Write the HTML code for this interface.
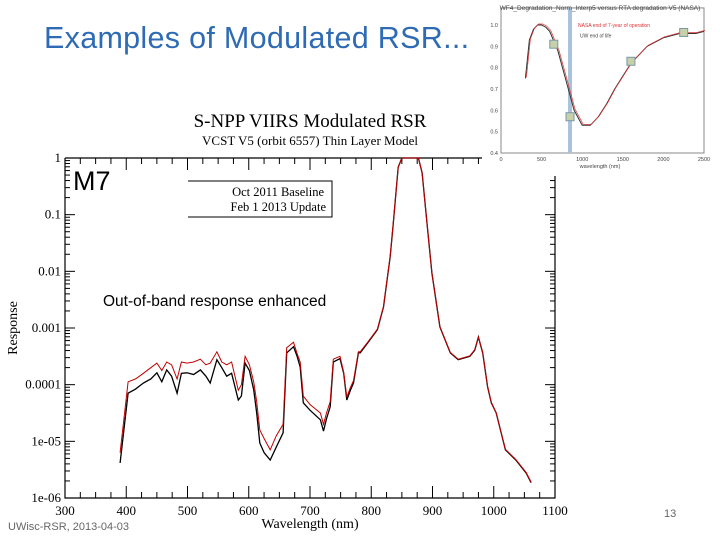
<!DOCTYPE html>
<html><head><meta charset="utf-8"><style>
body{margin:0;background:#fff;}
#slide{position:relative;width:720px;height:540px;overflow:hidden;background:#fff;font-family:"Liberation Sans",sans-serif;}
.t{position:absolute;white-space:nowrap;}
</style></head><body>
<div id="slide">
<div class="t" style="left:44px;top:21px;font-size:30.5px;letter-spacing:0.3px;color:#2e6bb4;">Examples of Modulated RSR...</div>
<svg id="chart" width="720" height="540" style="position:absolute;left:0;top:0"></svg>
<div class="t" style="left:73px;top:166px;font-size:27px;color:#000;">M7</div>
<div class="t" style="left:103px;top:293px;font-size:15.5px;color:#000;">Out-of-band response enhanced</div>
<div class="t" style="left:8px;top:521px;font-size:11px;color:#666;">UWisc-RSR, 2013-04-03</div>
<div class="t" style="left:664px;top:508px;font-size:11px;color:#666;">13</div>
</div>
<script>
const blackWl=[390,403,415,428,440,450,458,466,474,483,490,499,510,521,530,537,548,556,564,572,583,588,594,601,608,613,618,625,635,645,656,662,673,679,684,689,700,717,722,727,733,738,749,755,760,766,771,779,782,795,810,820,831,836,844,850,877,883,891,899,912,929,942,961,969,975,982,990,996,1004,1019,1036,1053,1061];
const blackLog=[-5.38,-4.15,-4.08,-3.97,-3.9,-3.79,-3.95,-3.74,-3.85,-4.15,-3.8,-3.79,-3.82,-3.74,-3.85,-3.97,-3.56,-3.7,-3.85,-3.8,-4.27,-4.2,-3.62,-3.75,-4.09,-4.5,-5.03,-5.2,-5.33,-5.1,-4.85,-3.44,-3.33,-3.5,-3.69,-4.32,-4.45,-4.62,-4.82,-4.6,-4.39,-3.6,-3.54,-3.8,-4.27,-4.1,-3.97,-3.44,-3.44,-3.25,-3.03,-2.63,-1.74,-1.15,-0.16,0,0,-0.26,-1.15,-2.03,-2.98,-3.44,-3.56,-3.5,-3.39,-3.16,-3.44,-4.04,-4.32,-4.5,-5.15,-5.33,-5.56,-5.73];
const redWl=[390,403,415,428,440,450,458,466,474,483,490,499,510,521,530,537,548,556,564,572,583,588,594,601,608,613,618,625,635,645,656,662,673,679,684,689,700,717,722,727,733,738,749,755,760,766,771,779,782,795,810,820,831,836,844,850,877,883,891,899,912,929,942,961,969,975,982,990,996,1004,1019,1036,1053,1061];
const redLog=[-5.2,-3.95,-3.9,-3.8,-3.7,-3.62,-3.75,-3.6,-3.65,-3.9,-3.6,-3.62,-3.6,-3.55,-3.65,-3.62,-3.42,-3.6,-3.65,-3.6,-4.1,-4.0,-3.5,-3.65,-3.95,-4.3,-4.8,-4.95,-5.15,-4.9,-4.7,-3.35,-3.25,-3.45,-3.6,-4.2,-4.35,-4.5,-4.7,-4.5,-4.3,-3.55,-3.5,-3.78,-4.22,-4.05,-3.93,-3.42,-3.42,-3.24,-3.02,-2.62,-1.73,-1.14,-0.16,0,0,-0.26,-1.15,-2.03,-2.98,-3.43,-3.55,-3.49,-3.38,-3.16,-3.43,-4.03,-4.31,-4.5,-5.14,-5.32,-5.55,-5.72];
const xTicks=[300,400,500,600,700,800,900,1000,1100];
const yTickLabels=["1","0.1","0.01","0.001","0.0001","1e-05","1e-06"];
const yTickLogs=[0,-1,-2,-3,-4,-5,-6];
const insetWl=[300,350,400,450,500,550,600,700,800,900,1000,1100,1200,1300,1400,1500,1600,1800,2000,2200,2400,2500];
const insetRef=[0.75,0.93,0.98,1.0,1.0,0.99,0.97,0.88,0.74,0.6,0.53,0.53,0.57,0.63,0.7,0.76,0.82,0.9,0.94,0.96,0.96,0.97];

const NS="http://www.w3.org/2000/svg";
const svg=document.getElementById('chart');
const X0=65,X1=555,Y0=158,Y1=498;
const sx=w=>X0+(w-300)/800*(X1-X0);
const sy=l=>Y0+(0-l)/6*(Y1-Y0);
function mk(tag,attrs,parent){const e=document.createElementNS(NS,tag);for(const k in attrs)e.setAttribute(k,attrs[k]);(parent||svg).appendChild(e);return e;}
let e=mk('text',{x:310,y:127,'text-anchor':'middle','font-family':'Liberation Serif','font-size':19});e.textContent='S-NPP VIIRS Modulated RSR';


e=mk('text',{x:310,y:145,'text-anchor':'middle','font-family':'Liberation Serif','font-size':13});e.textContent='VCST V5 (orbit 6557) Thin Layer Model';


e=mk('path',{d:`M${X0} ${Y0}V${Y1}H${X1}V${Y0}H${X0}`,fill:'none',stroke:'#000','stroke-width':1.2});


for(let w=300;w<=1100;w+=25){const maj=w%100===0;const L=maj?12:6;
mk('line',{x1:sx(w),x2:sx(w),y1:Y1,y2:Y1-L,stroke:'#000'});mk('line',{x1:sx(w),x2:sx(w),y1:Y0,y2:Y0+L,stroke:'#000'});}
xTicks.forEach(w=>{const t=mk('text',{x:sx(w),y:Y1+17,'text-anchor':'middle','font-family':'Liberation Serif','font-size':13});t.textContent=w;

});
for(let d=0;d<6;d++){for(let m=1;m<10;m++){const l=-(d+1)+Math.log10(m);const L=m===1?10:5;
mk('line',{x1:X0,x2:X0+L,y1:sy(l),y2:sy(l),stroke:'#000'});mk('line',{x1:X1,x2:X1-L,y1:sy(l),y2:sy(l),stroke:'#000'});}}
mk('line',{x1:X0,x2:X0+10,y1:Y0,y2:Y0,stroke:'#000'});
yTickLogs.forEach((l,i)=>{const t=mk('text',{x:X0-4,y:sy(l)+4,'text-anchor':'end','font-family':'Liberation Serif','font-size':13});t.textContent=yTickLabels[i];

});
e=mk('text',{x:0,y:0,transform:'translate(17,328) rotate(-90)','text-anchor':'middle','font-family':'Liberation Serif','font-size':14});e.textContent='Response';


e=mk('text',{x:310,y:528,'text-anchor':'middle','font-family':'Liberation Serif','font-size':14});e.textContent='Wavelength (nm)';


e=mk('path',{d:'M188 181H332V217H188',fill:'#fff',stroke:'#000'});


e=mk('text',{x:324,y:196,'text-anchor':'end','font-family':'Liberation Serif','font-size':12.5});e.textContent='Oct 2011 Baseline';


e=mk('text',{x:326,y:211,'text-anchor':'end','font-family':'Liberation Serif','font-size':12.5});e.textContent='Feb 1 2013 Update';


function line(wl,lg,col,w,name){const p=wl.map((v,i)=>sx(v).toFixed(1)+','+sy(lg[i]).toFixed(1)).join(' ');
const el=mk('polyline',{points:p,fill:'none',stroke:col,'stroke-width':w});

}
line(blackWl,blackLog,'#000',1.3,'series-baseline');
line(redWl,redLog,'#c00000',1,'series-update');
const g=mk('g',{});


mk('rect',{x:482,y:0,width:238,height:176,fill:'#fff'},g);
const ix=w=>501+w/2500*203, iy=v=>25+(1-v)/0.6*128;
mk('rect',{x:501,y:iy(1.08),width:203,height:iy(0.4)-iy(1.08),fill:'none',stroke:'#888'},g);
mk('rect',{x:ix(850)-2,y:iy(1.08),width:4,height:iy(0.4)-iy(1.08),fill:'#a9c3dc'},g);
let t=mk('text',{x:600,y:10,'text-anchor':'middle','font-size':6.5,fill:'#444'},g);t.textContent='WF4_Degradation_Norm_Interp5 versus RTA degradation V5 (NASA)';
const pp=insetWl.map((v,i)=>ix(v).toFixed(1)+','+iy(insetRef[i]).toFixed(1)).join(' ');
mk('polyline',{points:pp,fill:'none',stroke:'#333','stroke-width':1},g);
mk('polyline',{points:pp,fill:'none',stroke:'#d33','stroke-width':0.7,transform:'translate(1,-1)'},g);
[[0.4,'0.4'],[0.5,'0.5'],[0.6,'0.6'],[0.7,'0.7'],[0.8,'0.8'],[0.9,'0.9'],[1.0,'1.0']].forEach(a=>{const tt=mk('text',{x:498,y:iy(a[0])+2,'text-anchor':'end','font-size':5.5,fill:'#444'},g);tt.textContent=a[1];});
[0,500,1000,1500,2000,2500].forEach(w=>{const tt=mk('text',{x:ix(w),y:iy(0.4)+8,'text-anchor':'middle','font-size':5.5,fill:'#444'},g);tt.textContent=w;});
t=mk('text',{x:600,y:iy(0.4)+15,'text-anchor':'middle','font-size':5.5,fill:'#444'},g);t.textContent='wavelength (nm)';
t=mk('text',{x:578,y:iy(1.0)+2,'font-size':5,fill:'#d33'},g);t.textContent='NASA end of 7-year of operation';
t=mk('text',{x:580,y:iy(0.95)+2,'font-size':5,fill:'#444'},g);t.textContent='UW end of life';
[[ix(650),iy(0.91)],[ix(850),iy(0.57)],[ix(1600),iy(0.83)],[ix(2250),iy(0.965)]].forEach(q=>mk('rect',{x:q[0]-4,y:q[1]-4,width:8,height:8,fill:'#c8d0a8',stroke:'#79a'},g));
</script>
</body></html>
